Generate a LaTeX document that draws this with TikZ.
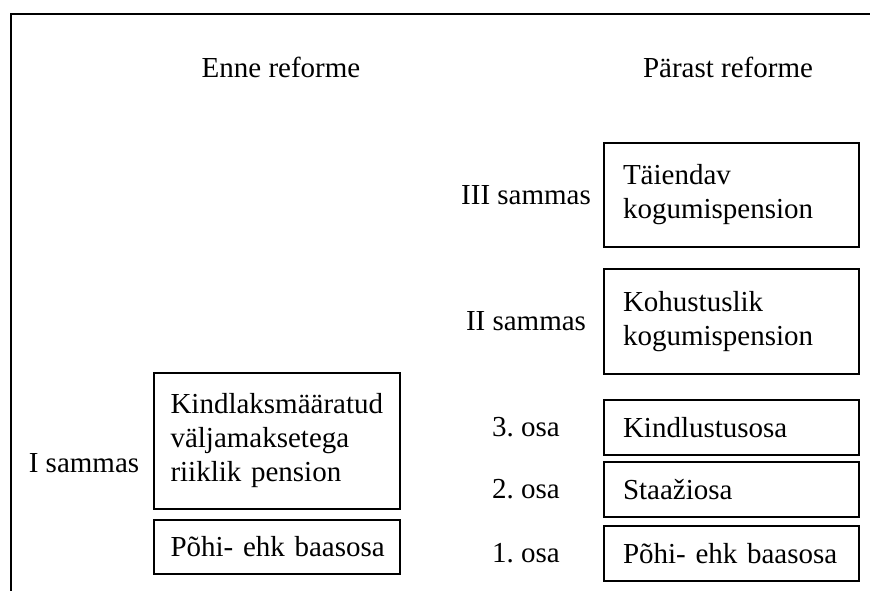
\documentclass[tikz,border=0pt]{standalone}
\usepackage{fontspec}
\setmainfont{Liberation Serif}
\usetikzlibrary{positioning}
\frenchspacing
\hyphenpenalty=10000
\exhyphenpenalty=10000

\begin{document}
\begin{tikzpicture}[
  x=0.5pt, y=-0.5pt,
  node distance=5pt,
  every node/.style={font=\fontsize{14.5}{17}\selectfont},
  oldbox/.style={draw, line width=1pt, align=left, inner xsep=8.25pt,
                 inner ysep=0pt, text width=106.5pt},
  newbox/.style={draw, line width=1pt, align=left, inner xsep=9.5pt,
                 inner ysep=0pt, text width=108.5pt},
  lab/.style={inner sep=0pt},
]
  \useasboundingbox (0,0) rectangle (870,591);

  % frame
  \draw[line width=1pt] (870,13.5) -- (10.5,13.5) -- (10.5,591);

  % headings
  \node[lab, anchor=base] (enne)   at (281,77) {Enne reforme};
  \node[lab, anchor=base] (parast) at (728,77) {Pärast reforme};

  % before the reform
  \node[oldbox, minimum height=68pt] (riiklik) at (277,441)
    {Kindlaksmääratud\\väljamaksetega\\riiklik pension};
  \node[oldbox, minimum height=27pt, below=4.5pt of riiklik] (baasvana)
    {Põhi-~ehk~baasosa};
  \node[lab] (sammas1) at (84,463) {I sammas};

  % after the reform
  \node[newbox, minimum height=52pt] (taiendav) at (731.5,195)
    {Täiendav\\kogumispension};
  \node[newbox, minimum height=52.5pt, below=10pt of taiendav] (kohustus)
    {Kohustuslik\\kogumispension};
  \node[newbox, minimum height=27.5pt, below=12pt of kohustus] (kindlustus)
    {Kindlustusosa};
  \node[newbox, minimum height=27.5pt, below=2.5pt of kindlustus] (staaz)
    {Staažiosa};
  \node[newbox, minimum height=27.5pt, below=3.5pt of staaz] (baasuus)
    {Põhi-~ehk~baasosa};

  \coordinate (lcol) at (526,0);
  \node[lab] (sammas3) at (lcol |- taiendav)   {III sammas};
  \node[lab] (sammas2) at (lcol |- kohustus)   {II sammas};
  \node[lab] (osa3)    at (lcol |- kindlustus) {3. osa};
  \node[lab] (osa2)    at (lcol |- staaz)      {2. osa};
  \node[lab] (osa1)    at (lcol |- baasuus)    {1. osa};
\end{tikzpicture}
\end{document}
